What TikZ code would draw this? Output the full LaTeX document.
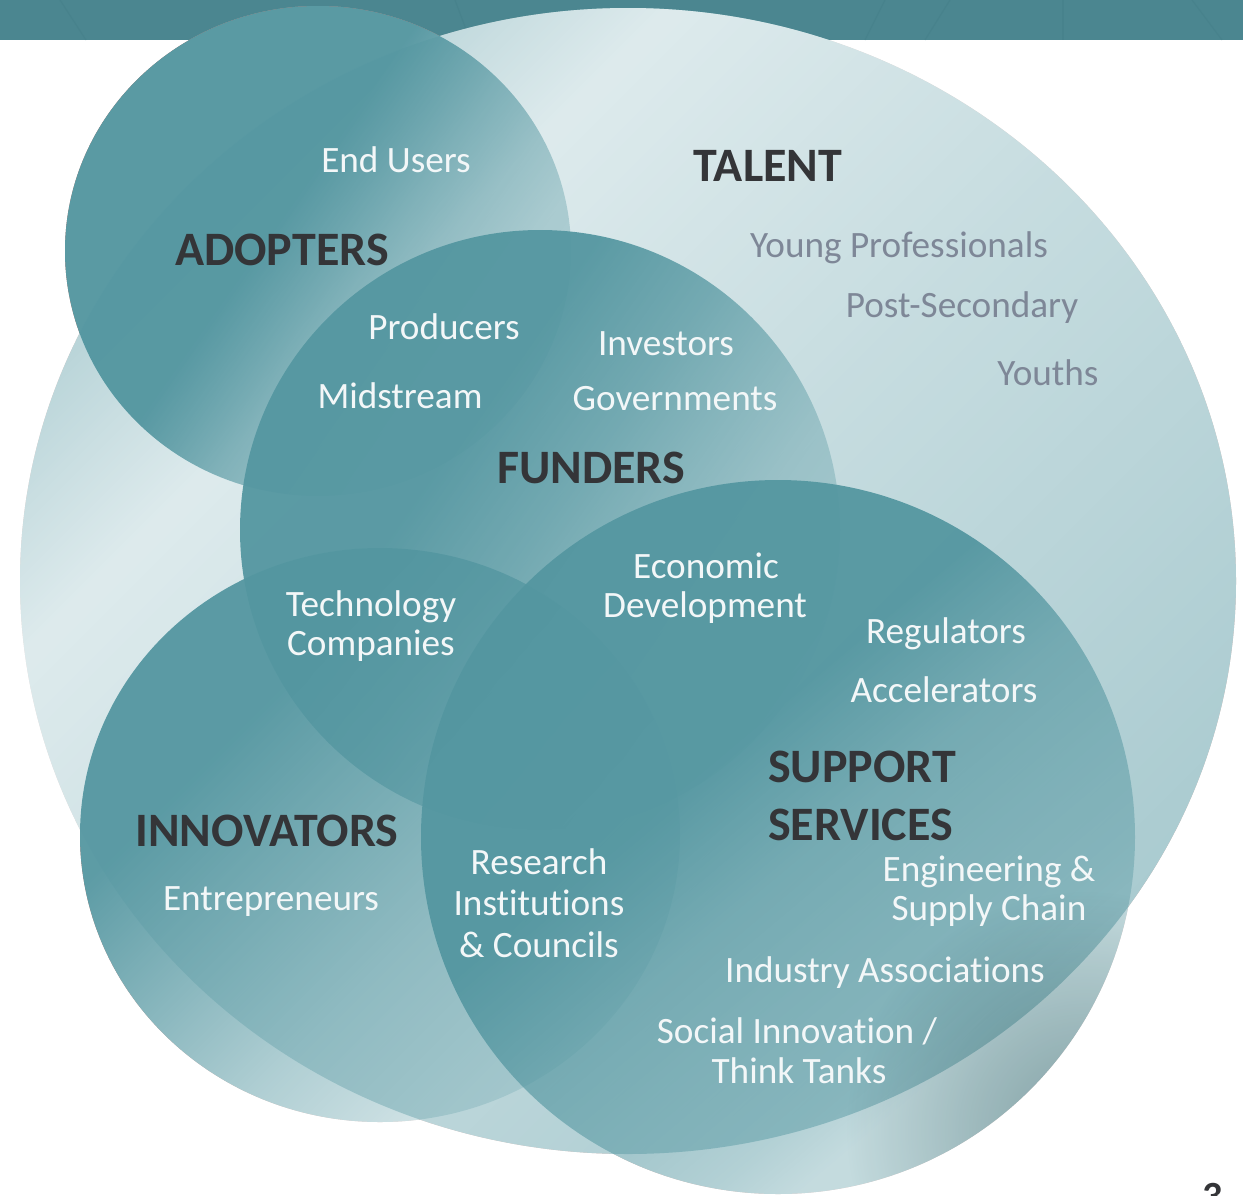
\documentclass[tikz,border=0pt]{standalone}
\usepackage{fontspec}
\setmainfont{Carlito}[Ligatures=NoCommon]

\definecolor{bandteal}{HTML}{4B8690}
\definecolor{bandline}{HTML}{427C86}
\definecolor{venn}{HTML}{5496A0}
\definecolor{ink}{HTML}{343538}
\definecolor{snow}{HTML}{F3F7F8}
\definecolor{muted}{HTML}{7E8797}

% Coverage ramps on a 100bp strip (black!N = N% teal coverage);
% 25bp..75bp is stretched over the shape that is shaded.
\pgfdeclarehorizontalshading{talentramp}{100bp}{color(0bp)=(black!44); color(25bp)=(black!44); color(34bp)=(black!20); color(50bp)=(black!33); color(75bp)=(black!50); color(100bp)=(black!50)}
\pgfdeclarehorizontalshading{adoptramp}{100bp}{color(0bp)=(black!97); color(45bp)=(black!97); color(55bp)=(black!66); color(67bp)=(black!36); color(75bp)=(black!30); color(100bp)=(black!30)}
\pgfdeclarehorizontalshading{fundramp}{100bp}{color(0bp)=(black!95); color(40bp)=(black!95); color(50bp)=(black!75); color(64bp)=(black!38); color(75bp)=(black!24); color(100bp)=(black!24)}
\pgfdeclarehorizontalshading{innovramp}{100bp}{color(0bp)=(black!95); color(35bp)=(black!95); color(46bp)=(black!72); color(58bp)=(black!47); color(75bp)=(black!20); color(100bp)=(black!20)}
\pgfdeclarehorizontalshading{suppramp}{100bp}{color(0bp)=(black!95); color(43bp)=(black!95); color(52bp)=(black!67); color(58bp)=(black!57); color(66bp)=(black!45); color(70bp)=(black!35); color(100bp)=(black!35)}
% greyish shadow, applied as a multiplier
\pgfdeclareradialshading{shadowramp}{\pgfpoint{0bp}{0bp}}{color(0bp)=(rgb,255:red,170;green,188;blue,190); color(12bp)=(rgb,255:red,208;green,218;blue,219); color(25bp)=(white); color(50bp)=(white)}

\tikzset{
  item/.style={text=snow, font=\fontsize{37.2}{40}\selectfont, inner sep=0pt, anchor=base},
  talentitem/.style={item, text=muted},
  head/.style={text=ink, font=\bfseries\fontsize{48}{52}\selectfont, inner sep=0pt, anchor=base},
  faint/.style={bandline, line width=1.2pt, opacity=0.35},
  talentshape/.style={insert path={(628,581) ellipse [x radius=608, y radius=573]}},
  adoptshape/.style={insert path={(318,251) ellipse [x radius=253, y radius=245]}},
  fundshape/.style={insert path={(540,530) circle [radius=300]}},
  innovshape/.style={insert path={(380,835) ellipse [x radius=300, y radius=287]}},
  suppshape/.style={insert path={(778,837) circle [radius=357]}},
}

\begin{document}
\begin{tikzpicture}[x=1pt,y=-1pt]
\useasboundingbox (0,0) rectangle (1243,1195);
\fill[white] (0,0) rectangle (1243,1195);

% header band with its faint pattern
\fill[bandteal] (0,0) rectangle (1243,40);
\draw[faint] (60,0) -- (86,40);
\draw[faint] (455,0) -- (470,40);
\draw[faint] (885,0) -- (865,40);
\draw[faint] (950,0) -- (925,40);
\draw[faint] (1063,0) -- (1063,40);
\draw[faint] (1192,0) -- (1222,40);

% white ground under the whole cluster
\fill[white] [talentshape] [adoptshape] [fundshape] [innovshape] [suppshape];

% coverage of each group, multiplied so that overlaps add up
\begin{scope}[blend mode=multiply]
  \shade[shading=talentramp, shading angle=-45] [talentshape];
  \shade[shading=adoptramp, shading angle=-35] [adoptshape];
  \shade[shading=fundramp, shading angle=-35] [fundshape];
  \shade[shading=innovramp, shading angle=-45] [innovshape];
  \shade[shading=suppramp, shading angle=-50] [suppshape];
\end{scope}

% turn coverage into teal
\begin{scope}[blend mode=screen]
  \clip [talentshape] [adoptshape] [fundshape] [innovshape] [suppshape];
  \fill[venn] (0,0) rectangle (1243,1195);
\end{scope}

% greyish shadow low on the right of the support circle
\begin{scope}[blend mode=multiply]
  \clip [suppshape];
  \shade[shading=shadowramp] (1085,1130) circle [radius=240];
\end{scope}

% group titles
\node[head] (adopters) at (282,265) {ADOPTERS};
\node[head] (talent) at (768,181) {TALENT};
\node[head] (funders) at (591,483) {FUNDERS};
\node[head] (innovators) at (267,846) {INNOVATORS};
\node[head, anchor=base west] (support) at (768,782) {SUPPORT};
\node[head, anchor=base west] (services) at (768,840) {SERVICES};

% members
\node[item] (endusers) at (396,172) {End Users};
\node[talentitem] (young) at (899,257) {Young Professionals};
\node[talentitem] (postsec) at (962,317) {Post-Secondary};
\node[talentitem] (youths) at (1048,385) {Youths};
\node[item] (producers) at (444,339) {Producers};
\node[item] (midstream) at (400,408) {Midstream};
\node[item] (investors) at (666,355) {Investors};
\node[item] (governments) at (675,410) {Governments};
\node[item] (tech1) at (371,616) {Technology};
\node[item] (tech2) at (371,655) {Companies};
\node[item] (econ1) at (706,578) {Economic};
\node[item] (econ2) at (705,617) {Development};
\node[item] (regulators) at (946,643) {Regulators};
\node[item] (accelerators) at (944,702) {Accelerators};
\node[item] (entrepreneurs) at (271,910) {Entrepreneurs};
\node[item] (research1) at (539,874) {Research};
\node[item] (research2) at (539,915) {Institutions};
\node[item] (research3) at (539,957) {\& Councils};
\node[item] (eng1) at (989,881) {Engineering \&};
\node[item] (eng2) at (989,920) {Supply Chain};
\node[item] (industry) at (885,982) {Industry Associations};
\node[item] (social1) at (797,1043) {Social Innovation /};
\node[item] (social2) at (799,1083) {Think Tanks};

% page number, cut by the page edge
\node[text=ink, font=\bfseries\fontsize{40}{44}\selectfont, inner sep=0pt, anchor=north] (pagenum) at (1213,1183) {3};
\end{tikzpicture}
\end{document}
